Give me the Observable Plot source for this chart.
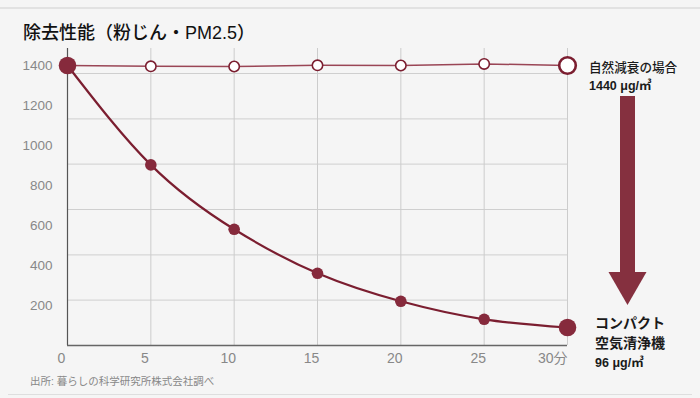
<!DOCTYPE html>
<html>
<head>
<meta charset="utf-8">
<script src="https://cdn.jsdelivr.net/npm/d3@7"></script>
<script src="https://cdn.jsdelivr.net/npm/@observablehq/plot@0.6"></script>
<style>
  html, body { margin: 0; padding: 0; background: #f5f5f5; }
  #wrap { position: relative; width: 700px; height: 398px; overflow: hidden; background: #f5f5f5;
          font-family: "Liberation Sans", "Noto Sans CJK JP", sans-serif; }
  #wrap svg { position: absolute; left: 0; top: 0; }
  .topline { position: absolute; left: 0; top: 7px; width: 700px; height: 2px; background: #e2e2e2; }
  .botline { position: absolute; left: 8px; top: 394px; width: 684px; height: 1px; background: #dedede; }
  .title { position: absolute; left: 23px; top: 18px; font-size: 18px; font-weight: 500; color: #111; white-space: nowrap; }
  .source { position: absolute; left: 30px; top: 373px; font-size: 10.5px; color: #888; white-space: nowrap; }
  .ann { position: absolute; white-space: nowrap; color: #1a1a1a; }
</style>
</head>
<body>
<div id="wrap">
  <div class="topline"></div>
  <div class="botline"></div>
  <div class="title">除去性能（粉じん・PM2.5）</div>
  <div class="source">出所: 暮らしの科学研究所株式会社調べ</div>
  <div class="ann" style="left:589px; top:57px; font-size:12.6px; font-weight:500;">自然減衰の場合</div>
  <div class="ann" style="left:589px; top:75px; font-size:12.5px; font-weight:bold;">1440 μg/㎥</div>
  <div class="ann" style="left:595px; top:312px; font-size:14px; font-weight:bold;">コンパクト</div>
  <div class="ann" style="left:595px; top:332px; font-size:14px; font-weight:bold;">空気清浄機</div>
  <div class="ann" style="left:595px; top:352px; font-size:12.5px; font-weight:bold;">96 μg/㎥</div>
</div>
<script>
// ---- data ----
const minutes = [0, 5, 10, 15, 20, 25, 30];
const purifier = [1400, 903, 581, 361, 221, 131, 90];
const natural = [1400, 1396, 1395, 1401, 1400, 1408, 1400];
const yTicks = [200, 400, 600, 800, 1000, 1200, 1400];
const xTicks = [0, 5, 10, 15, 20, 25];
const lastTick = [30];
const gridY = [227, 453, 680, 907, 1133, 1360];
const gridX = [5, 10, 15, 20, 25, 30];

const purData = minutes.map((m, i) => ({m, v: purifier[i]}));
const natData = minutes.map((m, i) => ({m, v: natural[i]}));

const dark = "#7b1e30";
const dotFill = "#862a3c";

function arrowMark(index, scales, values, dims) {
  const g = d3.create("svg:g");
  const cx = dims.width - dims.marginRight + 60.5;
  const yTop = 96, yHead = 272, yTip = 305;
  g.append("rect").attr("x", cx - 7.5).attr("y", yTop).attr("width", 15).attr("height", yHead - yTop + 1).attr("fill", "#85303f");
  g.append("path").attr("d", `M${cx - 19},${yHead} L${cx + 19},${yHead} L${cx},${yTip} Z`).attr("fill", "#85303f");
  return g.node();
}

const chart = Plot.plot({
  width: 700,
  height: 398,
  marginLeft: 67,
  marginRight: 133,
  marginTop: 48,
  marginBottom: 53,
  style: {background: "transparent", fontFamily: "'Liberation Sans', 'Noto Sans CJK JP', sans-serif"},
  x: {domain: [0, 30]},
  y: {domain: [0, 1485]},
  marks: [
    Plot.ruleY(gridY, {stroke: "#cfcfcf", strokeWidth: 1}),
    Plot.ruleX(gridX, {stroke: "#cccccc", strokeWidth: 1}),
    Plot.ruleX([0], {stroke: "#555", strokeWidth: 1.2}),
    Plot.ruleY([0], {stroke: "#666", strokeWidth: 1.6}),
    Plot.axisY(yTicks, {tickSize: 0, tickPadding: 15, fontSize: 13.5, color: "#888", tickFormat: d => String(d), label: null}),
    Plot.axisX(xTicks, {tickSize: 0, tickPadding: 8, fontSize: 14, color: "#888", dx: -6, tickFormat: d => String(d), label: null}),
    Plot.axisX(lastTick, {tickSize: 0, tickPadding: 8, fontSize: 14, color: "#888", textAnchor: "end", tickFormat: d => d + "分", label: null}),
    Plot.line(natData, {x: "m", y: "v", stroke: "#9a4656", strokeWidth: 1.5}),
    Plot.line(purData, {x: "m", y: "v", stroke: dark, strokeWidth: 2.2, curve: "natural"}),
    Plot.dot(natData.slice(1, 6), {x: "m", y: "v", r: 5.2, fill: "white", stroke: dark, strokeWidth: 1.6}),
    Plot.dot(natData.slice(6), {x: "m", y: "v", r: 8.3, fill: "white", stroke: dark, strokeWidth: 2.6}),
    Plot.dot(purData.slice(1, 6), {x: "m", y: "v", r: 5.8, fill: dotFill}),
    Plot.dot([purData[0], purData[6]], {x: "m", y: "v", r: 8.8, fill: dotFill}),
    arrowMark
  ]
});
document.getElementById("wrap").insertBefore(chart, document.getElementById("wrap").firstChild);
</script>
</body>
</html>
